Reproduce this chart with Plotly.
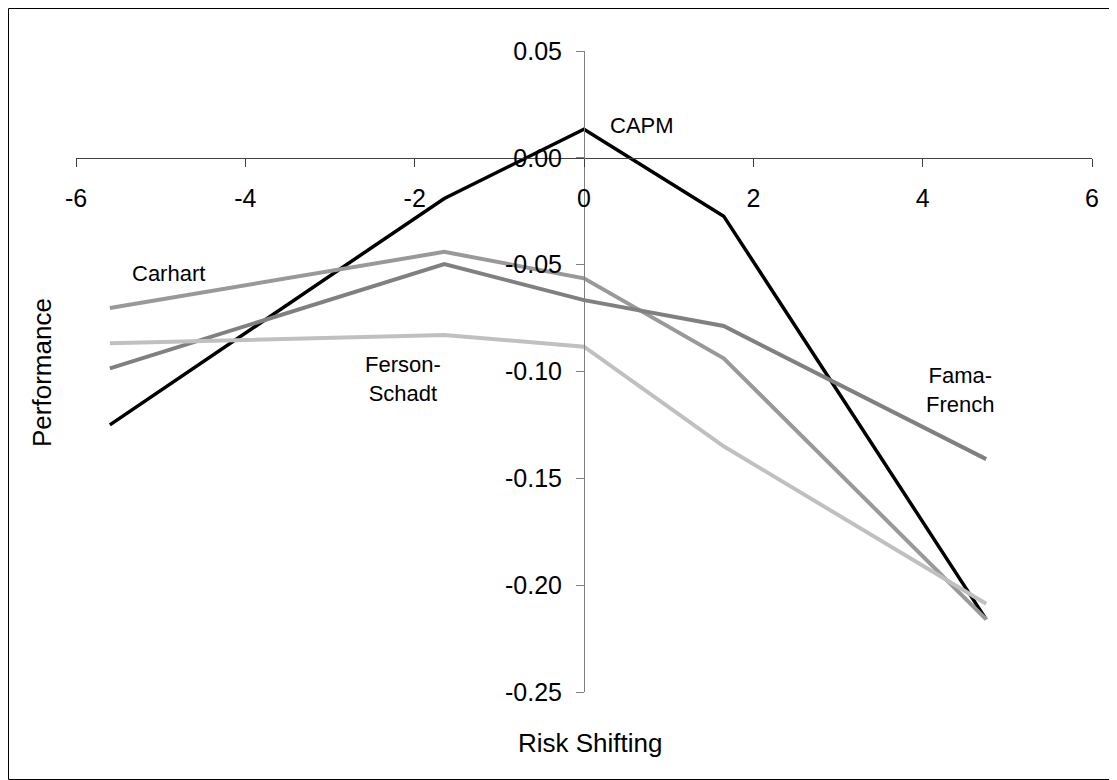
import plotly.graph_objects as go

# Data
risk_shifting = [-5.60, -1.65, 0.0, 1.65, 4.75]
capm = [-0.125, -0.019, 0.0134, -0.0273, -0.216]
carhart = [-0.0703, -0.044, -0.0564, -0.0938, -0.216]
fama_french = [-0.0985, -0.0497, -0.0666, -0.0787, -0.141]
ferson_schadt = [-0.0868, -0.0829, -0.0884, -0.135, -0.2087]

x_tickvals = [-6, -4, -2, 0, 2, 4, 6]
x_ticktext = ["-6", "-4", "-2", "0", "2", "4", "6"]
y_tickvals = [0.05, 0.0, -0.05, -0.10, -0.15, -0.20, -0.25]
y_ticktext = ["0.05", "0.00", "-0.05", "-0.10", "-0.15", "-0.20", "-0.25"]

FONT = "Liberation Sans, Arial, sans-serif"

fig = go.Figure()
series = [
    ("CAPM", capm, "#000000", 3.5),
    ("Carhart", carhart, "#999999", 4),
    ("Fama-French", fama_french, "#808080", 4),
    ("Ferson-Schadt", ferson_schadt, "#C0C0C0", 4),
]
for name, ys, color, w in series:
    fig.add_trace(go.Scatter(x=risk_shifting, y=ys, mode="lines", name=name,
                             line=dict(color=color, width=w), showlegend=False))

# page is offset by the default 8px body margin
OFF = 8
W, H = 1109, 772
L, R, T, B = 68, 25, 43, 88
pw, ph = W - L - R, H - T - B

def px_to_paper(px, py):
    # px, py given in page (screenshot) pixels
    return (px - OFF - L) / pw, (H - B - (py - OFF)) / ph

ann = []
label_font = dict(family=FONT, size=22, color="#000000")
for text, x, y in [("CAPM", 0.68, 0.0152), ("Carhart", -4.91, -0.054),
                   ("Ferson-<br>Schadt", -2.14, -0.1035), ("Fama-<br>French", 4.44, -0.1088)]:
    ann.append(dict(x=x, y=y, xref="x", yref="y", text=text, showarrow=False,
                    font=label_font, align="center", xanchor="center", yanchor="middle"))

tx, ty = px_to_paper(42, 373)
ann.append(dict(x=tx, y=ty, xref="paper", yref="paper", text="Performance", textangle=-90,
                showarrow=False, xanchor="center", yanchor="middle",
                font=dict(family=FONT, size=26, color="#000000")))
tx, ty = px_to_paper(590, 743)
ann.append(dict(x=tx, y=ty, xref="paper", yref="paper", text="Risk Shifting",
                showarrow=False, xanchor="center", yanchor="middle",
                font=dict(family=FONT, size=26, color="#000000")))

bx0 = (0.5 - L) / pw
bx1 = (W - 0.5 - L) / pw
by0 = (H - B - (H - 0.5)) / ph
by1 = (H - B - 0.5) / ph

fig.update_layout(
    width=W, height=H,
    margin=dict(l=L, r=R, t=T, b=B),
    paper_bgcolor="white", plot_bgcolor="white",
    font=dict(family=FONT, color="#000000"),
    xaxis=dict(range=[-6, 6], anchor="free", position=0.25 / 0.30,
               tickvals=x_tickvals, ticktext=x_ticktext,
               showgrid=False, zeroline=False, showline=True, linecolor="#404040", linewidth=1,
               ticks="outside", ticklen=8, tickcolor="#404040", tickwidth=1,
               tickfont=dict(family=FONT, size=25, color="#000000"), ticklabelstandoff=10),
    yaxis=dict(range=[-0.25, 0.05], anchor="free", position=0.5,
               tickvals=y_tickvals, ticktext=y_ticktext,
               showgrid=False, zeroline=False, showline=True, linecolor="#808080", linewidth=1,
               ticks="outside", ticklen=8, tickcolor="#808080", tickwidth=1,
               tickfont=dict(family=FONT, size=25, color="#000000"), ticklabelstandoff=9),
    annotations=ann,
    shapes=[dict(type="rect", xref="paper", yref="paper", x0=bx0, y0=by0, x1=bx1, y1=by1,
                 line=dict(color="#000000", width=1), layer="below")],
)

fig.write_html("out.html")
